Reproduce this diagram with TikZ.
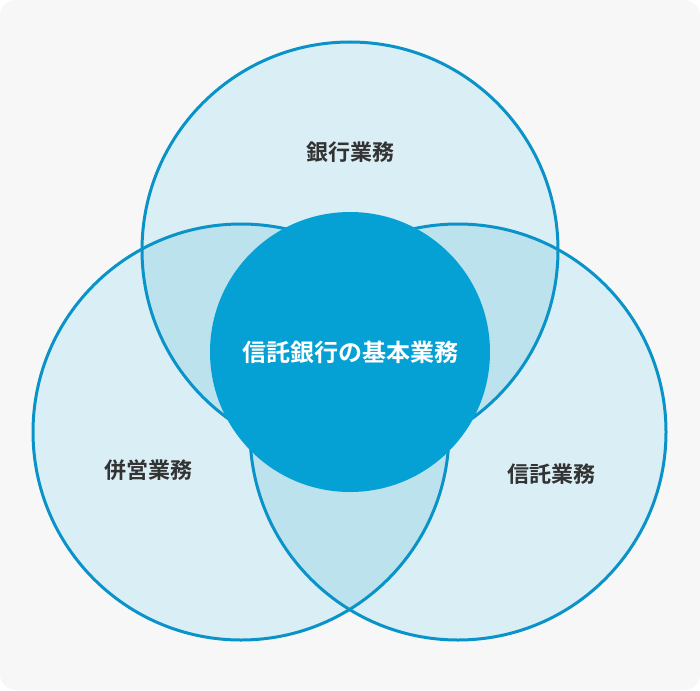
\documentclass[tikz,border=0pt]{standalone}
\usepackage{fontspec}
\newfontfamily\jpfont{Noto Sans CJK JP}[BoldFont={* Bold}]
\definecolor{bgc}{HTML}{F7F7F7}
\definecolor{one}{HTML}{DAEEF5}
\definecolor{two}{HTML}{BCE2EE}
\definecolor{edge}{HTML}{0A93C8}
\definecolor{core}{HTML}{05A0D4}
\definecolor{txt}{HTML}{333333}
\tikzset{
  ring/.style={draw=edge, line width=3pt},
  lbl/.style={font=\jpfont\bfseries\fontsize{22}{26}\selectfont, text=txt},
}
\begin{document}
\begin{tikzpicture}[x=1pt,y=-1pt]
\useasboundingbox (0,0) rectangle (700,690);
\fill[white] (0,0) rectangle (700,690);
\fill[bgc, rounded corners=16pt] (0,0) rectangle (700,690);
\coordinate (T) at (350,250);
\coordinate (L) at (241,432);
\coordinate (R) at (458,432);
\def\rr{208}
% single fills
\fill[one] (T) circle[radius=\rr];
\fill[one] (L) circle[radius=\rr];
\fill[one] (R) circle[radius=\rr];
% pairwise overlaps
\begin{scope}
  \clip (T) circle[radius=\rr];
  \fill[two] (L) circle[radius=\rr];
  \fill[two] (R) circle[radius=\rr];
\end{scope}
\begin{scope}
  \clip (L) circle[radius=\rr];
  \fill[two] (R) circle[radius=\rr];
\end{scope}
% outlines
\draw[ring] (T) circle[radius=\rr];
\draw[ring] (L) circle[radius=\rr];
\draw[ring] (R) circle[radius=\rr];
% core
\node[circle, fill=core, minimum size=280pt, inner sep=0pt] (C) at (350,352) {};
\node[font=\jpfont\bfseries\fontsize{24}{28}\selectfont, text=white] (ct) at (C) {信託銀行の基本業務};
\node[lbl] (tb) at (350,152) {銀行業務};
\node[lbl] (lb) at (148,470) {併営業務};
\node[lbl] (rb) at (551,474) {信託業務};
\end{tikzpicture}
\end{document}
